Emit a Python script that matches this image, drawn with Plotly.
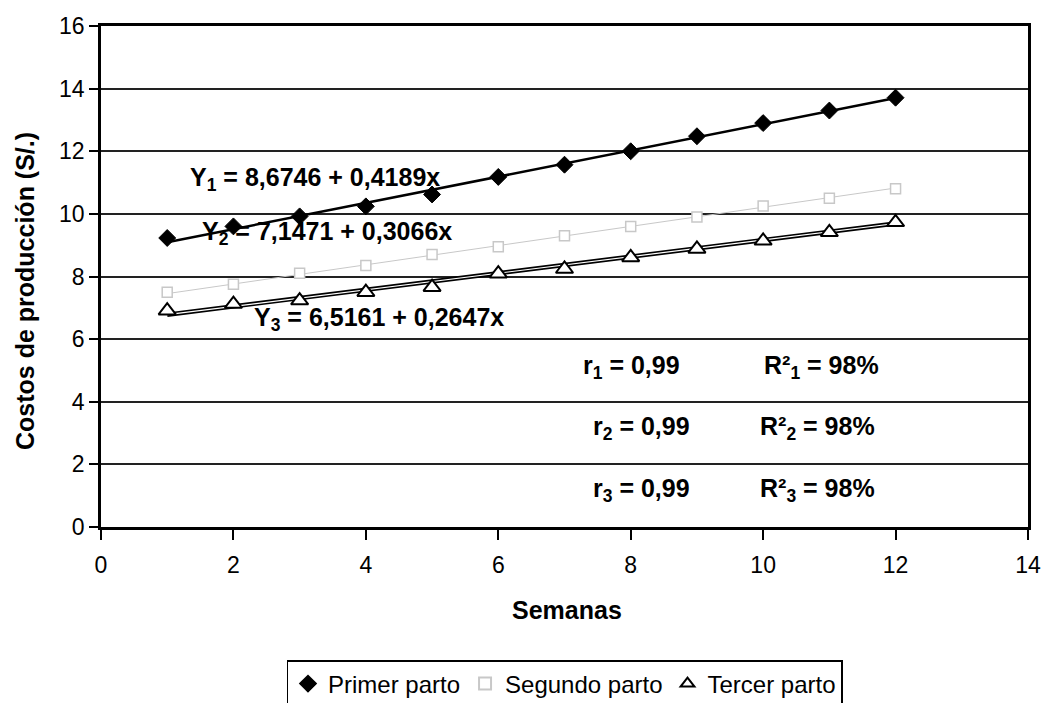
import numpy as np
import plotly.graph_objects as go

semanas = list(range(1, 13))
primer = [9.23, 9.60, 9.92, 10.24, 10.62, 11.18, 11.57, 12.00, 12.48, 12.90, 13.30, 13.71]
segundo = [7.50, 7.75, 8.10, 8.35, 8.70, 8.95, 9.30, 9.60, 9.90, 10.25, 10.50, 10.80]
tercer = [6.91, 7.12, 7.23, 7.50, 7.66, 8.09, 8.24, 8.61, 8.88, 9.14, 9.41, 9.73]

coef1 = (8.6746, 0.4189)
coef2 = (7.1471, 0.3066)
coef3 = (6.5161, 0.2647)

x_ticks = [0, 2, 4, 6, 8, 10, 12, 14]
y_ticks = [0, 2, 4, 6, 8, 10, 12, 14, 16]

FONT = "Arial, Liberation Sans, sans-serif"

xs = np.array([semanas[0], semanas[-1]], dtype=float)

fig = go.Figure()

# trend lines
fig.add_trace(go.Scatter(x=xs, y=coef1[0] + coef1[1] * xs, mode="lines",
                         line=dict(color="black", width=2.5), showlegend=False, hoverinfo="skip"))
fig.add_trace(go.Scatter(x=xs, y=coef2[0] + coef2[1] * xs, mode="lines",
                         line=dict(color="#c8c8c8", width=1), showlegend=False, hoverinfo="skip"))
fig.add_trace(go.Scatter(x=xs, y=coef3[0] + coef3[1] * xs, mode="lines",
                         line=dict(color="black", width=4.5), showlegend=False, hoverinfo="skip"))
fig.add_trace(go.Scatter(x=xs, y=coef3[0] + coef3[1] * xs, mode="lines",
                         line=dict(color="white", width=1.2), showlegend=False, hoverinfo="skip"))

# data series
fig.add_trace(go.Scatter(x=semanas, y=primer, mode="markers", name="Primer parto",
                         marker=dict(symbol="diamond", size=13, color="black",
                                     line=dict(color="black", width=1))))
fig.add_trace(go.Scatter(x=semanas, y=segundo, mode="markers", name="Segundo parto",
                         marker=dict(symbol="square", size=10, color="white",
                                     line=dict(color="#c8c8c8", width=1.5))))
fig.add_trace(go.Scatter(x=semanas, y=tercer, mode="markers", name="Tercer parto",
                         marker=dict(symbol="triangle-up", size=15, color="white",
                                     line=dict(color="black", width=2))))

eq_font = dict(family=FONT, size=25, color="black")
r_font = dict(family=FONT, size=25, color="black")
annotations = [
    dict(x=1.31, y=11.10, text="<b>Y<sub>1</sub> = 8,6746 + 0,4189x</b>", font=eq_font),
    dict(x=1.50, y=9.39, text="<b>Y<sub>2</sub> = 7,1471 + 0,3066x</b>", font=eq_font),
    dict(x=2.28, y=6.64, text="<b>Y<sub>3</sub> = 6,5161 + 0,2647x</b>", font=eq_font),
    dict(x=7.25, y=5.10, text="<b>r<sub>1</sub> = 0,99</b>", font=r_font),
    dict(x=9.98, y=5.10, text="<b>R²<sub>1</sub> = 98%</b>", font=r_font),
    dict(x=7.40, y=3.15, text="<b>r<sub>2</sub> = 0,99</b>", font=r_font),
    dict(x=9.92, y=3.15, text="<b>R²<sub>2</sub> = 98%</b>", font=r_font),
    dict(x=7.40, y=1.18, text="<b>r<sub>3</sub> = 0,99</b>", font=r_font),
    dict(x=9.92, y=1.18, text="<b>R²<sub>3</sub> = 98%</b>", font=r_font),
]
for a in annotations:
    a.update(xref="x", yref="y", xanchor="left", yanchor="middle", showarrow=False)

PW, PH = 927, 501
# y-axis title placed as rotated text
annotations.append(dict(
    text="<b>Costos de producción (S/.)</b>", textangle=-90,
    xref="paper", yref="paper", x=-(101 - 25) / PW, y=(527 - 291) / PH,
    xanchor="center", yanchor="middle", showarrow=False,
    font=dict(family=FONT, size=25, color="black")))
# x-axis title
annotations.append(dict(
    text="<b>Semanas</b>",
    xref="paper", yref="paper", x=(567 - 101) / PW, y=-(610 - 527) / PH,
    xanchor="center", yanchor="middle", showarrow=False,
    font=dict(family=FONT, size=25, color="black")))

fig.update_layout(
    width=1048, height=703,
    margin=dict(l=101, r=20, t=26, b=176, autoexpand=False),
    paper_bgcolor="white", plot_bgcolor="white",
    font=dict(family=FONT, size=22, color="black"),
    annotations=annotations,
    showlegend=True,
    legend=dict(orientation="h", x=0.5, xanchor="center",
                yref="container", y=(703 - 660) / 703, yanchor="top",
                bordercolor="black", borderwidth=1.5, bgcolor="white",
                font=dict(family=FONT, size=24, color="black"),
                itemsizing="constant", tracegroupgap=0),
)
fig.update_xaxes(
    range=[0, 14], tickvals=x_ticks, ticktext=[str(v) for v in x_ticks],
    showgrid=False, zeroline=False, automargin=False,
    showline=True, linecolor="black", linewidth=2.5, mirror=True,
    ticks="outside", ticklen=10, tickwidth=1.5, tickcolor="black",
    ticklabelstandoff=6,
    tickfont=dict(family=FONT, size=23),
)
fig.update_yaxes(
    range=[0, 16], tickvals=y_ticks, ticktext=[str(v) for v in y_ticks],
    showgrid=True, gridcolor="#222222", gridwidth=1.5, zeroline=False, automargin=False,
    showline=True, linecolor="black", linewidth=2.5, mirror=True,
    ticks="outside", ticklen=9, tickwidth=1.5, tickcolor="black",
    tickfont=dict(family=FONT, size=23),
)

fig.write_html("out.html")
